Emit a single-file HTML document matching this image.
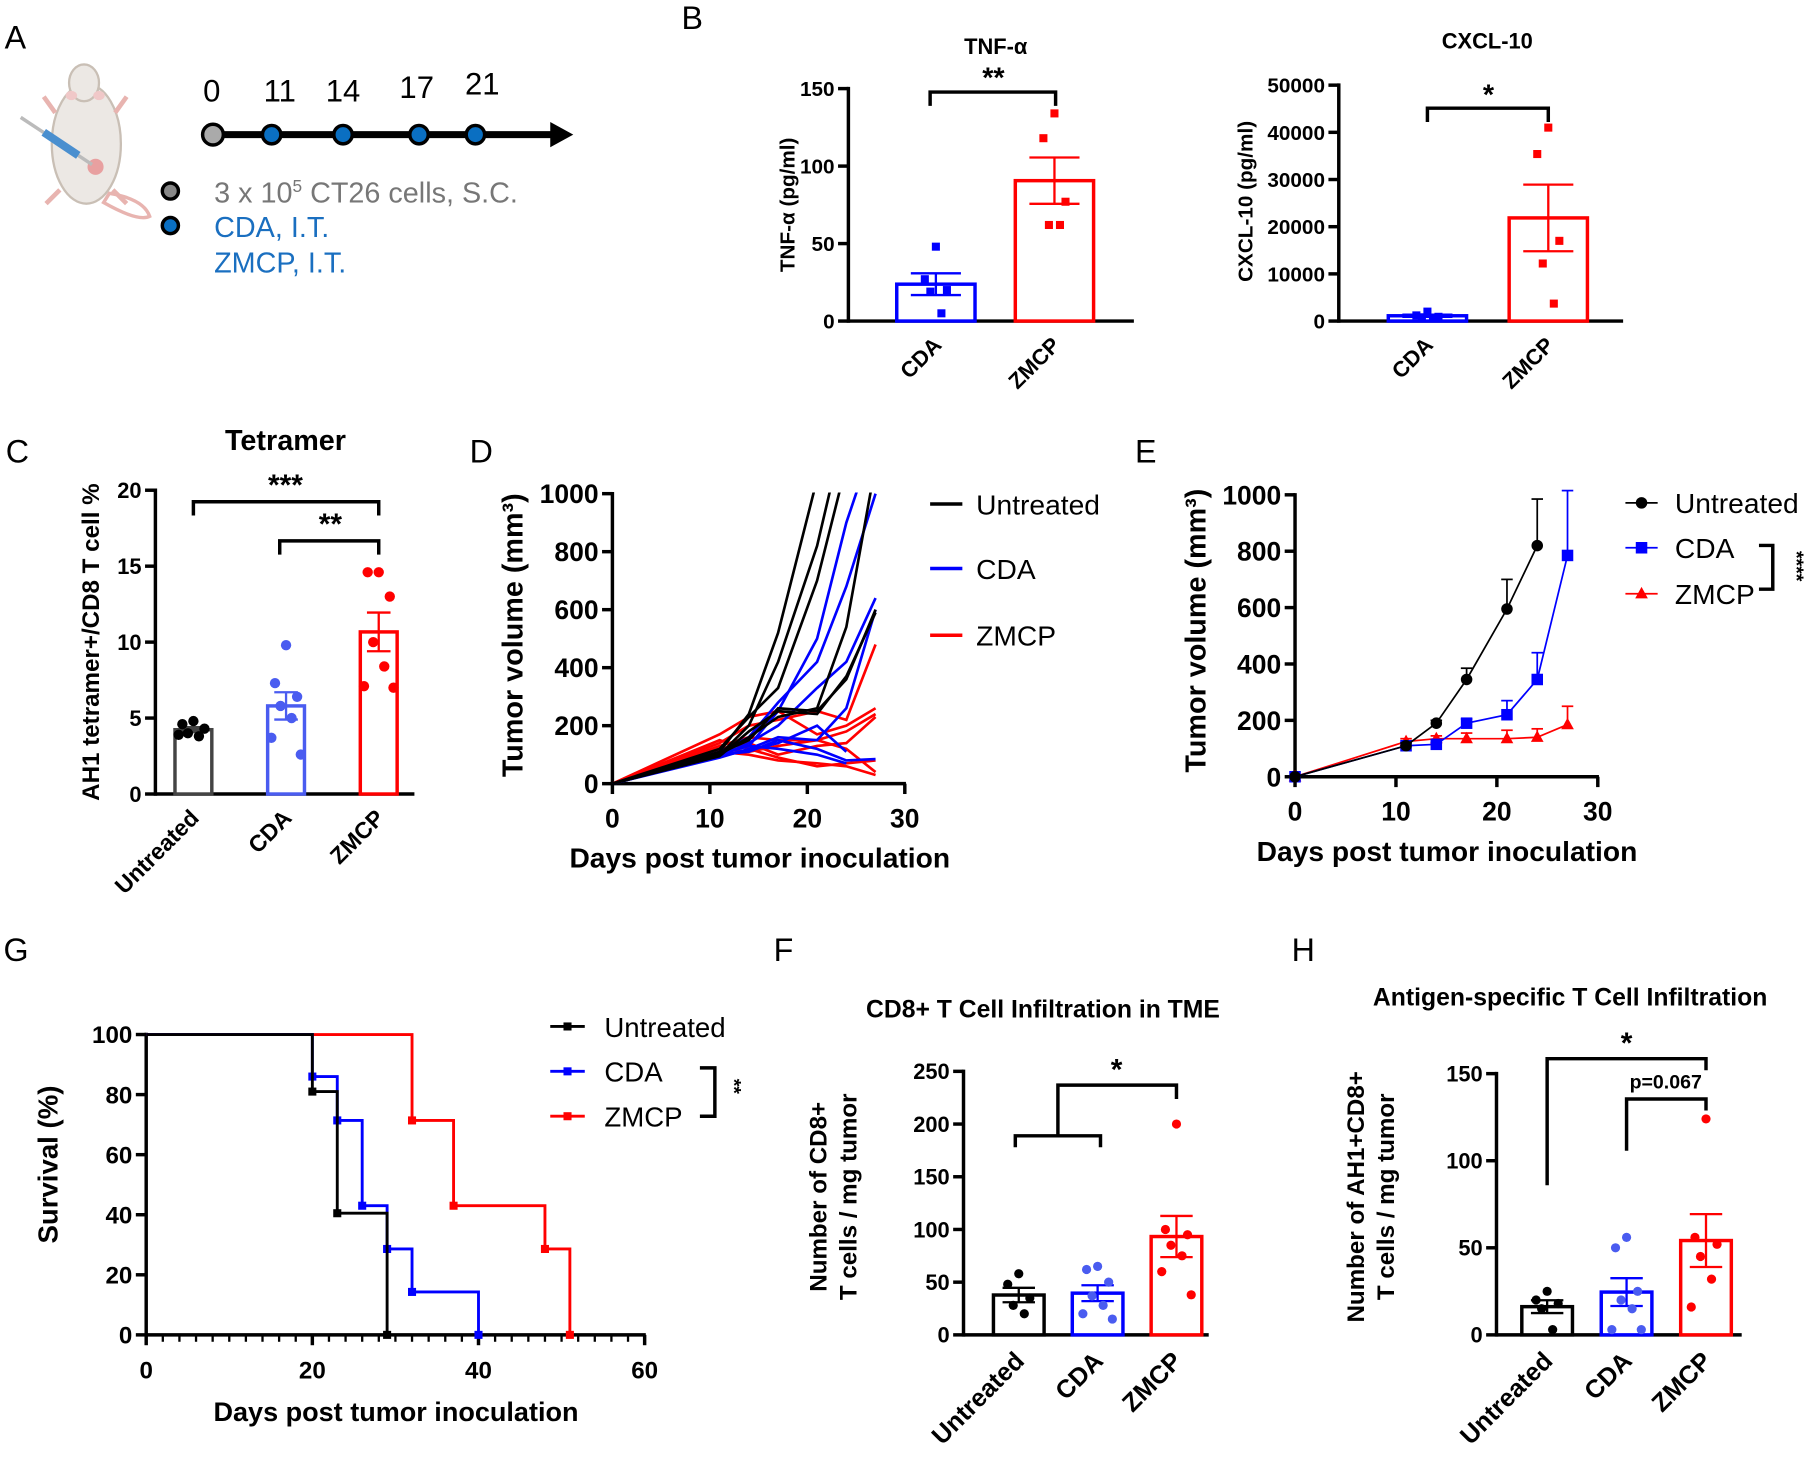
<!DOCTYPE html>
<html><head><meta charset="utf-8"><style>
html,body{margin:0;padding:0;background:#fff;}
svg{display:block;font-family:"Liberation Sans",Arial,sans-serif;}
</style></head><body>
<svg id="fig" xmlns="http://www.w3.org/2000/svg" width="1805" height="1458" viewBox="0 0 1568 1267" preserveAspectRatio="none">
<rect x="0" y="0" width="1568" height="1267" fill="#fff"/>
<g>
<text x="4" y="42" font-size="28">A</text>
<g>
<path d="M95 168 q30 5 35 20 q-10 5 -40 -12z" fill="none" stroke="#e8b4b0" stroke-width="3"/>
<ellipse cx="75" cy="125" rx="30" ry="52" fill="#ece8e4" stroke="#c9bfb5" stroke-width="2"/>
<ellipse cx="73" cy="72" rx="13" ry="16" fill="#ece8e4" stroke="#c9bfb5" stroke-width="2"/>
<ellipse cx="62" cy="83" rx="5" ry="4" fill="#f0c8c8"/><ellipse cx="86" cy="83" rx="5" ry="4" fill="#f0c8c8"/>
<path d="M48 98 l-10 -14 M100 98 l10 -14 M52 165 l-12 12 M98 165 l12 12" stroke="#e8b4b0" stroke-width="4"/>
<circle cx="83" cy="145" r="7" fill="#e8a0a0"/>
<line x1="18" y1="102" x2="80" y2="143" stroke="#bbb" stroke-width="3"/>
<line x1="38" y1="115" x2="68" y2="135" stroke="#4a8fcf" stroke-width="7"/>
</g>
<line x1="185" y1="117" x2="482" y2="117" stroke="#000" stroke-width="6"/>
<polygon points="478,106 498,117 478,128" fill="#000"/>
<circle cx="185" cy="117" r="9" fill="#aaa" stroke="#000" stroke-width="3"/>
<circle cx="236" cy="117" r="8" fill="#0a6fc2" stroke="#000" stroke-width="3"/>
<circle cx="298" cy="117" r="8" fill="#0a6fc2" stroke="#000" stroke-width="3"/>
<circle cx="364" cy="117" r="8" fill="#0a6fc2" stroke="#000" stroke-width="3"/>
<circle cx="413" cy="117" r="8" fill="#0a6fc2" stroke="#000" stroke-width="3"/>
<g font-size="27" text-anchor="middle">
<text x="184" y="88">0</text><text x="243" y="88">11</text><text x="298" y="88">14</text><text x="362" y="85">17</text><text x="419" y="82">21</text></g>
<circle cx="148" cy="166" r="7" fill="#888" stroke="#000" stroke-width="3"/>
<circle cx="148" cy="196" r="7" fill="#0a6fc2" stroke="#000" stroke-width="3"/>
<text x="186" y="176" font-size="25" fill="#777">3 x 10<tspan font-size="15" dy="-9">5</tspan><tspan dy="9"> CT26 cells, S.C.</tspan></text>
<text x="186" y="206" font-size="25" fill="#1a6fc0">CDA, I.T.</text>
<text x="186" y="237" font-size="25" fill="#1a6fc0">ZMCP, I.T.</text>
</g>
<text x="592" y="25" font-size="28">B</text>
<text x="5" y="402" font-size="28">C</text>
<text x="408" y="402" font-size="28">D</text>
<text x="986" y="402" font-size="28">E</text>
<text x="3" y="835" font-size="28">G</text>
<text x="672" y="835" font-size="28">F</text>
<text x="1122" y="835" font-size="28">H</text>
<defs><clipPath id="clipD"><rect x="530" y="428" width="300" height="256"/></clipPath></defs>
</svg>
<script>
// ---- data ----
const tnfCats=["CDA","ZMCP"];
const tnfCDA=[48,27,20,19,5];
const tnfZMCP=[134,118,77,62,62];
const tnfTicks=[0,50,100,150];
const cxclCats=["CDA","ZMCP"];
const cxclCDA=[2000,1200,900,800,700];
const cxclZMCP=[41000,35400,17000,12200,3700];
const cxclTicks=[0,10000,20000,30000,40000,50000];
const tetCats=["Untreated","CDA","ZMCP"];
const tetUntreated=[4.8,4.6,4.3,4.0,3.8,3.9];
const tetCDA=[9.8,7.3,6.4,5.8,5.0,3.7,2.6];
const tetZMCP=[14.6,14.6,13.0,10.0,8.4,7.1,7.0];
const tetTicks=[0,5,10,15,20];
const fCats=["Untreated","CDA","ZMCP"];
const fUntreated=[58,48,35,28,20];
const fCDA=[65,62,50,37,28,20,15];
const fZMCP=[200,100,95,85,75,60,38];
const fTicks=[0,50,100,150,200,250];
const hCats=["Untreated","CDA","ZMCP"];
const hUntreated=[25,20,18,15,3];
const hCDA=[56,50,25,20,15,3,3];
const hZMCP=[124,56,52,45,32,16];
const hTicks=[0,50,100,150];
const dDays=[0,11,14,17,21,24,27];
const dUntreated=[[0,110,240,520,1050,null,null],[0,100,200,420,820,1250,null],[0,120,230,330,700,1100,null],[0,95,180,250,240,370,590],[0,105,150,260,250,360,600],[0,100,160,230,260,540,1100]];
const dCDA=[[0,100,130,250,500,900,1200],[0,110,160,280,420,680,1000],[0,95,140,200,330,420,640],[0,90,120,160,150,260,600],[0,100,110,150,120,80,85],[0,105,130,120,100,70,null],[0,95,115,140,200,110,null]];
const dZMCP=[[0,170,230,250,170,200,260],[0,140,200,220,250,220,480],[0,130,160,150,150,180,240],[0,120,140,100,130,140,230],[0,110,100,80,70,60,30],[0,150,120,90,60,70,80],[0,120,110,130,150,120,40]];
const volTicks=[0,200,400,600,800,1000];
const dayTicks=[0,10,20,30];
const eUntDays=[0,11,14,17,21,24];
const eUntMean=[0,110,190,345,595,820];
const eUntErr=[0,10,10,40,105,165];
const eCDADays=[0,11,14,17,21,24,27];
const eCDAMean=[0,110,115,190,220,345,785];
const eCDAErr=[0,10,10,15,50,95,230];
const eZDays=[0,11,14,17,21,24,27];
const eZMean=[0,125,135,135,135,140,185];
const eZErr=[0,10,10,20,30,30,65];
const gUntTimes=[0,20,23,29];
const gUntSurv=[100,81,40.5,0];
const gCDATimes=[0,20,23,26,29,32,40];
const gCDASurv=[100,86,71.4,43,28.6,14.3,0];
const gZTimes=[0,32,37,48,51];
const gZSurv=[100,71.4,43,28.6,0];
const survTicks=[0,20,40,60,80,100];
const survXTicks=[0,20,40,60];

const NS="http://www.w3.org/2000/svg";
const svg=document.getElementById('fig');
function mk(tag,attrs,name,parent){
  const el=document.createElementNS(NS,tag);
  for(const k in attrs) el.setAttribute(k,attrs[k]);
  
  
  (parent||svg).appendChild(el);
  return el;
}
function txt(x,y,s,size,opts,name,parent){
  const a=Object.assign({x:x,y:y,'font-size':size},opts||{});
  const el=mk('text',a,name,parent);
  el.textContent=s;
  return el;
}
function lin(d0,d1,r0,r1){return v=>r0+(v-d0)*(r1-r0)/(d1-d0);}
function mean(a){return a.reduce((s,v)=>s+v,0)/a.length;}
function sem(a){const m=mean(a);const sd=Math.sqrt(a.reduce((s,v)=>s+(v-m)*(v-m),0)/(a.length-1));return sd/Math.sqrt(a.length);}
const jit=[0,-12,12,-6,6,-16,16,-3];

function yAxis(x,y,ticks,fs,fmt,name){
  const g=mk('g',{},name);
  mk('line',{x1:x,x2:x,y1:y(ticks[ticks.length-1])-1.5,y2:y(ticks[0])+1.5,stroke:'#000','stroke-width':3},'y-axis-line',g);
  ticks.forEach(t=>{
    mk('line',{x1:x-9,x2:x,y1:y(t),y2:y(t),stroke:'#000','stroke-width':3},'y-tick',g);
    txt(x-12,y(t)+fs*0.36,fmt?fmt(t):String(t),fs,{'text-anchor':'end','font-weight':'bold'},'y-tick-label',g);
  });
}
function vtitle(x,cy,s,fs,name){
  txt(x,cy,s,fs,{'text-anchor':'middle','font-weight':'bold',transform:`rotate(-90 ${x} ${cy})`},name);
}
function barPanel(p){
  const y=lin(0,p.vmax,p.yBot,p.yTop);
  yAxis(p.x0,y,p.ticks,p.fs,p.fmt,p.name+'-y-axis');
  mk('line',{x1:p.x0,x2:p.x1,y1:p.yBot,y2:p.yBot,stroke:'#000','stroke-width':3},p.name+'-x-axis');
  p.groups.forEach((vals,i)=>{
    const cx=p.x0+p.off+i*p.step;
    const m=mean(vals), e=sem(vals), c=p.colors[i];
    mk('rect',{x:cx-p.bw/2,y:y(m),width:p.bw,height:p.yBot-y(m),fill:'#fff',stroke:c,'stroke-width':3},p.name+'-bar-'+p.cats[i].toLowerCase());
    mk('line',{x1:cx,x2:cx,y1:y(m+e),y2:y(Math.max(0,m-e)),stroke:c,'stroke-width':2},'error-bar');
    mk('line',{x1:cx-p.bw*0.32,x2:cx+p.bw*0.32,y1:y(m+e),y2:y(m+e),stroke:c,'stroke-width':2},'error-cap');
    mk('line',{x1:cx-p.bw*0.32,x2:cx+p.bw*0.32,y1:y(Math.max(0,m-e)),y2:y(Math.max(0,m-e)),stroke:c,'stroke-width':2},'error-cap');
    vals.forEach((v,j)=>{
      const pc=p.pcolors?p.pcolors[i]:c;
      if(p.square) mk('rect',{x:cx+jit[j%8]*0.8-3.5,y:y(v)-3.5,width:7,height:7,fill:pc},'data-point');
      else mk('circle',{cx:cx+jit[j%8]*0.8,cy:y(v),r:p.pr||4,fill:pc},'data-point');
    });
    const lx=cx+6, ly=p.yBot+p.lOff;
    txt(lx,ly,p.cats[i],p.cfs,{'text-anchor':'end','font-weight':'bold',transform:`rotate(-45 ${lx} ${ly})`},'x-category-label');
  });
  return y;
}
function bracket(x1,x2,yb,d1,d2,label,lx,ly,fs,name){
  const g=mk('g',{},name);
  mk('polyline',{points:`${x1},${d1} ${x1},${yb} ${x2},${yb} ${x2},${d2}`,fill:'none',stroke:'#000','stroke-width':3},'bracket-line',g);
  txt(lx,ly,label,fs,{'text-anchor':'middle','font-weight':'bold'},'significance-label',g);
}

// ---- B: TNF-alpha ----
txt(865,47,"TNF-α",19,{'text-anchor':'middle','font-weight':'bold'},'tnf-title');
barPanel({name:'tnf',x0:737,x1:985,yTop:77,yBot:279,vmax:150,ticks:tnfTicks,fs:18,groups:[tnfCDA,tnfZMCP],cats:tnfCats,colors:['#0000ff','#ff0000'],off:76,step:103,bw:68,square:true,lOff:22,cfs:19});
vtitle(690,178,"TNF-α (pg/ml)",18,'tnf-y-title');
bracket(808,917,80,92,92,"**",863,76,25,'tnf-significance');
// ---- B: CXCL-10 ----
txt(1292,42,"CXCL-10",19,{'text-anchor':'middle','font-weight':'bold'},'cxcl-title');
barPanel({name:'cxcl',x0:1163,x1:1410,yTop:74,yBot:279,vmax:50000,ticks:cxclTicks,fs:18,groups:[cxclCDA,cxclZMCP],cats:cxclCats,colors:['#0000ff','#ff0000'],off:77,step:105,bw:68,square:true,lOff:22,cfs:19});
vtitle(1088,175,"CXCL-10 (pg/ml)",18,'cxcl-y-title');
bracket(1240,1345,94,106,106,"*",1293,91,25,'cxcl-significance');
// ---- C: Tetramer ----
txt(248,391,"Tetramer",25,{'text-anchor':'middle','font-weight':'bold'},'tetramer-title');
barPanel({name:'tetramer',x0:135,x1:360,yTop:426,yBot:690,vmax:20,ticks:tetTicks,fs:19,groups:[tetUntreated,tetCDA,tetZMCP],cats:tetCats,colors:['#444','#4a5cf0','#ff0000'],pcolors:['#000','#4a5cf0','#ff0000'],off:33,step:80.5,bw:32,pr:4.5,lOff:22,cfs:20});
vtitle(86,558,"AH1 tetramer+/CD8 T cell %",21,'tetramer-y-title');
bracket(168,329,436,448,448,"***",248,430,26,'tetramer-sig-untreated');
bracket(243,329,470,482,482,"**",287,464,26,'tetramer-sig-cda');

// ---- D: spaghetti ----
(function(){
  const x=lin(0,30,532,786), y=lin(0,1000,681,429);
  yAxis(532,y,volTicks,23,null,'d-y-axis');
  mk('line',{x1:532,x2:787,y1:681,y2:681,stroke:'#000','stroke-width':3},'d-x-axis');
  dayTicks.forEach(t=>{mk('line',{x1:x(t),x2:x(t),y1:681,y2:690,stroke:'#000','stroke-width':3},'d-x-tick');
    txt(x(t),719,String(t),23,{'text-anchor':'middle','font-weight':'bold'},'d-x-tick-label');});
  const g=mk('g',{'clip-path':'url(#clipD)'},'d-lines');
  [[dZMCP,'#ff0000','zmcp'],[dCDA,'#0000ff','cda'],[dUntreated,'#000','untreated']].forEach(([set,c,n])=>{
    set.forEach(s=>{
      const pts=[];s.forEach((v,i)=>{if(v!==null)pts.push(x(dDays[i])+','+y(v));});
      mk('polyline',{points:pts.join(' '),fill:'none',stroke:c,'stroke-width':2.3},'mouse-line-'+n,g);
    });
  });
  txt(660,754,"Days post tumor inoculation",24.5,{'text-anchor':'middle','font-weight':'bold'},'d-x-title');
  vtitle(454,552,"Tumor volume (mm³)",25,'d-y-title');
  [['Untreated','#000',438],['CDA','#0000ff',494],['ZMCP','#ff0000',552]].forEach(([n,c,yy])=>{
    mk('line',{x1:808,x2:836,y1:yy,y2:yy,stroke:c,'stroke-width':3},'legend-swatch-'+n.toLowerCase());
    txt(848,yy+9,n,24.5,{},'legend-entry-'+n.toLowerCase());
  });
})();

// ---- E: mean growth ----
(function(){
  const x=lin(0,30,1125,1388), y=lin(0,1000,675,430);
  yAxis(1125,y,volTicks,23,null,'e-y-axis');
  mk('line',{x1:1125,x2:1389,y1:675,y2:675,stroke:'#000','stroke-width':3},'e-x-axis');
  dayTicks.forEach(t=>{mk('line',{x1:x(t),x2:x(t),y1:675,y2:684,stroke:'#000','stroke-width':3},'e-x-tick');
    txt(x(t),713,String(t),23,{'text-anchor':'middle','font-weight':'bold'},'e-x-tick-label');});
  [[eZDays,eZMean,eZErr,'#ff0000','tri','zmcp'],[eCDADays,eCDAMean,eCDAErr,'#0000ff','sq','cda'],[eUntDays,eUntMean,eUntErr,'#000','circ','untreated']].forEach(([d,m,e,c,sh,n])=>{
    mk('polyline',{points:d.map((dd,i)=>x(dd)+','+y(m[i])).join(' '),fill:'none',stroke:c,'stroke-width':1.5},'mean-line-'+n);
    d.forEach((dd,i)=>{
      if(e[i]>0){mk('line',{x1:x(dd),x2:x(dd),y1:y(m[i]),y2:y(m[i]+e[i]),stroke:c,'stroke-width':1.5},'error-bar-'+n);
        mk('line',{x1:x(dd)-5,x2:x(dd)+5,y1:y(m[i]+e[i]),y2:y(m[i]+e[i]),stroke:c,'stroke-width':1.5},'error-cap-'+n);}
      if(sh==='circ') mk('circle',{cx:x(dd),cy:y(m[i]),r:5,fill:c},'marker-'+n);
      else if(sh==='sq') mk('rect',{x:x(dd)-5,y:y(m[i])-5,width:10,height:10,fill:c},'marker-'+n);
      else mk('polygon',{points:`${x(dd)},${y(m[i])-6} ${x(dd)-5.5},${y(m[i])+4} ${x(dd)+5.5},${y(m[i])+4}`,fill:c},'marker-'+n);
    });
  });
  txt(1257,748,"Days post tumor inoculation",24.5,{'text-anchor':'middle','font-weight':'bold'},'e-x-title');
  vtitle(1047,548,"Tumor volume (mm³)",25,'e-y-title');
  [['Untreated','#000',437,'circ'],['CDA','#0000ff',476,'sq'],['ZMCP','#ff0000',516,'tri']].forEach(([n,c,yy,sh])=>{
    mk('line',{x1:1412,x2:1440,y1:yy,y2:yy,stroke:c,'stroke-width':1.5},'legend-line-'+n.toLowerCase());
    if(sh==='circ') mk('circle',{cx:1426,cy:yy,r:5,fill:c},'legend-marker');
    else if(sh==='sq') mk('rect',{x:1421,y:yy-5,width:10,height:10,fill:c},'legend-marker');
    else mk('polygon',{points:`1426,${yy-6} 1420.5,${yy+4} 1431.5,${yy+4}`,fill:c},'legend-marker');
    txt(1455,yy+9,n,24.5,{},'legend-entry-'+n.toLowerCase());
  });
  mk('polyline',{points:'1528,474 1540,474 1540,512 1528,512',fill:'none',stroke:'#000','stroke-width':3},'e-significance-bracket');
  txt(1555,492,"****",17,{'text-anchor':'middle','font-weight':'bold',transform:'rotate(90 1555 492)'},'e-significance-label');
})();

// ---- G: survival ----
(function(){
  const x=lin(0,60,127,560), y=lin(0,100,1160,899);
  yAxis(127,y,survTicks,21,null,'g-y-axis');
  mk('line',{x1:127,x2:561,y1:1160,y2:1160,stroke:'#000','stroke-width':3},'g-x-axis');
  for(let t=0;t<=60;t+=2){const big=t%20===0;mk('line',{x1:x(t),x2:x(t),y1:1160,y2:1160+(big?9:6),stroke:'#000','stroke-width':big?3:2},'g-x-tick');}
  survXTicks.forEach(t=>txt(x(t),1198,String(t),21,{'text-anchor':'middle','font-weight':'bold'},'g-x-tick-label'));
  [[gZTimes,gZSurv,'#ff0000','zmcp'],[gCDATimes,gCDASurv,'#0000ff','cda'],[gUntTimes,gUntSurv,'#000','untreated']].forEach(([T,S,c,n])=>{
    let pts=[x(T[0])+','+y(S[0])];
    for(let i=1;i<T.length;i++){pts.push(x(T[i])+','+y(S[i-1]));pts.push(x(T[i])+','+y(S[i]));}
    mk('polyline',{points:pts.join(' '),fill:'none',stroke:c,'stroke-width':2.5},'survival-curve-'+n);
    for(let i=1;i<T.length;i++) mk('rect',{x:x(T[i])-3.5,y:y(S[i])-3.5,width:7,height:7,fill:c},'censor-marker-'+n);
  });
  txt(344,1235,"Days post tumor inoculation",23.5,{'text-anchor':'middle','font-weight':'bold'},'g-x-title');
  vtitle(50,1012,"Survival (%)",24,'g-y-title');
  [['Untreated','#000',892],['CDA','#0000ff',931],['ZMCP','#ff0000',970]].forEach(([n,c,yy])=>{
    mk('line',{x1:478,x2:508,y1:yy,y2:yy,stroke:c,'stroke-width':2.5},'legend-line-'+n.toLowerCase());
    mk('rect',{x:489.5,y:yy-3.5,width:7,height:7,fill:c},'legend-marker');
    txt(525,yy+9,n,24,{},'legend-entry-'+n.toLowerCase());
  });
  mk('polyline',{points:'608,928 621,928 621,970 608,970',fill:'none',stroke:'#000','stroke-width':3},'g-significance-bracket');
  txt(632,944,"**",17,{'text-anchor':'middle','font-weight':'bold',transform:'rotate(90 632 944)'},'g-significance-label');
})();

// ---- F ----
txt(906,884,"CD8+ T Cell Infiltration in TME",21.5,{'text-anchor':'middle','font-weight':'bold'},'f-title');
barPanel({name:'cd8',x0:837,x1:1050,yTop:931,yBot:1160,vmax:250,ticks:fTicks,fs:19,groups:[fUntreated,fCDA,fZMCP],cats:fCats,colors:['#000','#0000ff','#ff0000'],pcolors:['#000','#4a5cf0','#ff0000'],off:48,step:68.5,bw:44,pr:4,lOff:24,cfs:22});
vtitle(718,1040,"Number of CD8+",21,'f-y-title-1');
vtitle(744,1040,"T cells / mg tumor",21,'f-y-title-2');
mk('polyline',{points:'882,997 882,987 956,987 956,997',fill:'none',stroke:'#000','stroke-width':3},'f-group-bracket');
bracket(919,1022,943,987,955,"*",970,938,26,'f-significance');

// ---- H ----
txt(1364,874,"Antigen-specific T Cell Infiltration",21.5,{'text-anchor':'middle','font-weight':'bold'},'h-title');
barPanel({name:'ah1',x0:1300,x1:1513,yTop:933,yBot:1160,vmax:150,ticks:hTicks,fs:19,groups:[hUntreated,hCDA,hZMCP],cats:hCats,colors:['#000','#0000ff','#ff0000'],pcolors:['#000','#4a5cf0','#ff0000'],off:44,step:69,bw:44,pr:4,lOff:24,cfs:22});
vtitle(1185,1040,"Number of AH1+CD8+",21,'h-y-title-1');
vtitle(1211,1040,"T cells / mg tumor",21,'h-y-title-2');
bracket(1344,1482,920,1030,930,"*",1413,915,26,'h-significance-untreated');
bracket(1413,1482,955,1000,965,"p=0.067",1447,946,17,'h-significance-cda');
</script>
</body></html>
